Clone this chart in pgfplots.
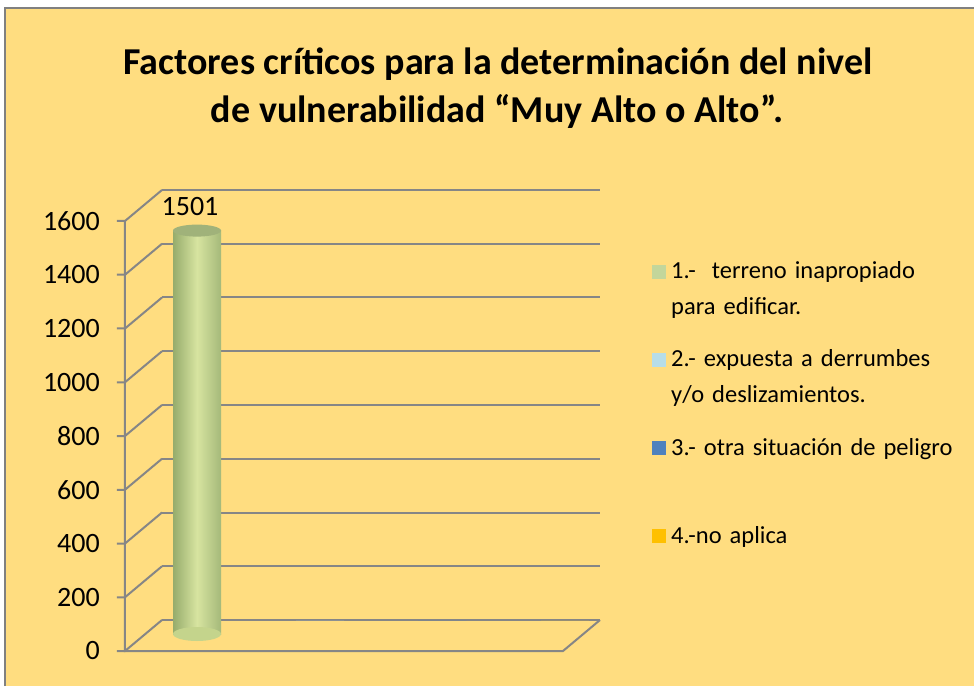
\documentclass[border=0pt]{standalone}
\usepackage{fontspec}
\setmainfont{Carlito}
\usepackage{pgfplots}
\pgfplotsset{compat=1.18}
\definecolor{bgyellow}{RGB}{255,221,128}
\definecolor{framegray}{RGB}{128,128,128}
\definecolor{gridgray}{RGB}{134,134,134}
\definecolor{cylL}{RGB}{150,172,108}
\definecolor{cylM}{RGB}{215,228,160}
\definecolor{cylR}{RGB}{165,185,122}
\definecolor{cylTop}{RGB}{160,178,122}
\definecolor{cylBot}{RGB}{196,212,140}
\definecolor{sOne}{RGB}{195,214,155}
\definecolor{sTwo}{RGB}{183,221,232}
\definecolor{sThree}{RGB}{79,129,189}
\definecolor{sFour}{RGB}{255,192,0}
\pgfdeclareplotmark{cyltop}{\pgfpathellipse{\pgfpointorigin}{\pgfqpoint{24pt}{0pt}}{\pgfqpoint{0pt}{6pt}}\pgfusepathqfill}
\pgfdeclareplotmark{cylbot}{\pgfpathellipse{\pgfpointorigin}{\pgfqpoint{24pt}{0pt}}{\pgfqpoint{0pt}{7pt}}\pgfusepathqfill}
\pgfplotsset{sqlegend/.style={legend image code/.code={\fill[##1] (0pt,0pt) rectangle (14pt,14pt);}}}
\newcommand{\legtext}[1]{\parbox[t]{300pt}{\spaceskip=8pt plus 1pt #1}}
\begin{document}
\begin{tikzpicture}[x=1pt,y=1pt]
\path[use as bounding box] (0,0) rectangle (974,686);
\fill[bgyellow] (5,0) rectangle (974,678);
\draw[framegray, line width=2pt] (5,0) -- (5,678) -- (974,678);
\node[anchor=base, inner sep=0pt, font=\fontsize{38}{46}\selectfont\bfseries] at (498,611) {Factores críticos para la determinación del nivel};
\node[anchor=base, inner sep=0pt, font=\fontsize{38}{46}\selectfont\bfseries] at (497,563) {de vulnerabilidad “Muy Alto o Alto”.};
\begin{axis}[
  at={(162pt,66pt)}, anchor=south west,
  scale only axis, width=438pt, height=430pt,
  xmin=0, xmax=1, ymin=0, ymax=1600,
  xtick=\empty, ytick={0,200,400,600,800,1000,1200,1400,1600},
  ymajorgrids, major grid style={gridgray, line width=2pt},
  axis line style={draw=none},
  ytick style={draw=none},
  /pgf/number format/1000 sep={},
  /pgf/number format/assume math mode=true,
  tick label style={font=\fontsize{28}{34}\selectfont},
  yticklabel style={inner sep=0pt, anchor=east, xshift=-62pt, yshift=-31pt},
  clip=false,
  legend style={at={(1.1187,0.853)}, anchor=north west, draw=none, fill=none, inner sep=0pt,
    /tikz/row sep=0pt, /tikz/column sep=5pt,
    nodes={anchor=base west, inner sep=0pt, text height=25.2pt, text depth=63pt, font=\fontsize{24.5}{36}\selectfont}},
  legend cell align=left,
]
\pgfplotsinvokeforeach{0,200,400,600,800,1000,1200,1400,1600}{
  \draw[gridgray, line width=2pt] ([shift={(-45pt,-31pt)}]axis cs:0,#1) -- ([shift={(-37pt,-31pt)}]axis cs:0,#1) -- (axis cs:0,#1);
}
\draw[gridgray, line width=2pt] ([shift={(-37pt,-31pt)}]axis cs:0,1600) -- ([shift={(-37pt,-31pt)}]axis cs:0,0) -- ([shift={(-37pt,-31pt)}]axis cs:1,0) -- (axis cs:1,0);

\addplot[only marks, mark=cylbot, mark options={fill=cylBot, draw=none}, xshift=-184pt, yshift=-14pt, forget plot] coordinates {(0.5,0)};
\addplot[ybar, bar width=48pt, bar shift=-184pt, yshift=-14pt, draw=none, left color=cylL, right color=cylR, middle color=cylM, forget plot] coordinates {(0.5,1501)};
\addplot[only marks, mark=cyltop, mark options={fill=cylTop, draw=none}, xshift=-184pt, yshift=-14pt, forget plot,
  nodes near coords, every node near coord/.append style={font=\fontsize{28}{34}\selectfont, anchor=base, inner sep=0pt, text height=, text depth=, xshift=-7pt, yshift=15pt}] coordinates {(0.5,1501)};

\addlegendimage{sqlegend, fill=sOne, draw=none}
\addlegendentry{\legtext{1.-\ \ terreno inapropiado\\para edificar.}}
\addplot[ybar, bar width=48pt, bar shift=-61pt, draw=none, fill=sTwo, sqlegend] coordinates {(0.5,0)};
\addlegendentry{\legtext{2.- expuesta a derrumbes\\y/o deslizamientos.}}
\addplot[ybar, bar width=48pt, bar shift=61pt, draw=none, fill=sThree, sqlegend] coordinates {(0.5,0)};
\addlegendentry{\legtext{3.- otra situación de peligro}}
\addplot[ybar, bar width=48pt, bar shift=184pt, draw=none, fill=sFour, sqlegend] coordinates {(0.5,0)};
\addlegendentry{\legtext{4.-no aplica}}
\end{axis}
\end{tikzpicture}
\end{document}
